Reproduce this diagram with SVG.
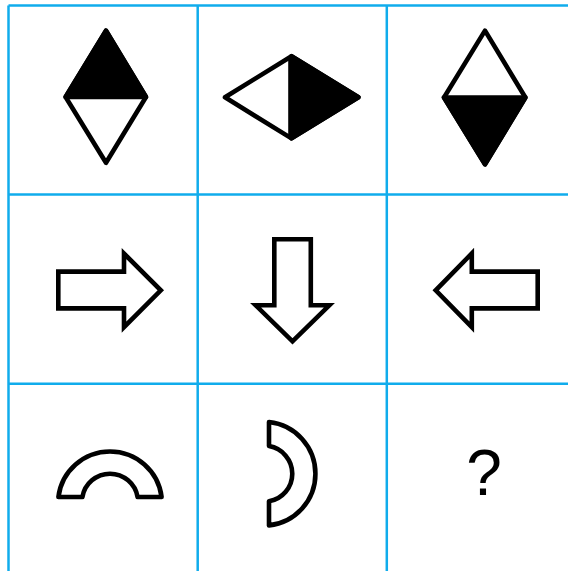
<svg xmlns="http://www.w3.org/2000/svg" width="568" height="571" viewBox="0 0 568 571">
<style>
.grid{stroke:#10acec;stroke-width:2.5;fill:none}
.sh{stroke:#000;stroke-width:4.6;fill:#fff;stroke-linejoin:round}
.ar{stroke:#000;stroke-width:4.6;fill:#fff;stroke-linejoin:miter;stroke-miterlimit:10}
.blk{fill:#000;stroke:#000;stroke-width:4.6;stroke-linejoin:round}
.q{font-family:"Liberation Sans",Arial,sans-serif;font-size:64px;fill:#000}
</style>
<rect width="568" height="571" fill="#fff"/>
<g id="grid" class="grid">
<line x1="8.5" y1="5.5" x2="8.5" y2="571"/>
<line x1="197.7" y1="5.5" x2="197.7" y2="571"/>
<line x1="386.8" y1="5.5" x2="386.8" y2="571"/>
<line x1="8.5" y1="5.5" x2="568" y2="5.5"/>
<line x1="8.5" y1="194.6" x2="568" y2="194.6"/>
<line x1="8.5" y1="383.7" x2="568" y2="383.7"/>
</g>
<g id="diamond1">
<path class="sh" d="M106,30.6 L146,97 L106,162.8 L65.6,97 Z"/>
<path class="blk" d="M106,30.6 L146,97 L65.6,97 Z"/>
</g>
<g id="diamond2">
<path class="sh" d="M291.5,56.2 L358.4,97.3 L291.5,138.4 L225,97.3 Z"/>
<path class="blk" d="M291.5,56.2 L358.4,97.3 L291.5,138.4 Z"/>
<line x1="290.5" y1="57" x2="290.5" y2="138" stroke="#000" stroke-width="4.6"/>
</g>
<g id="diamond3">
<path class="sh" d="M485,30.6 L525.4,97.5 L485,164.3 L444,97.5 Z"/>
<path class="blk" d="M525.4,97.5 L485,164.3 L444,97.5 Z"/>
</g>
<g id="arrow-right">
<path class="ar" d="M58.3,271.6 H124 V253.5 L160.8,290.3 L124,327.1 V308.4 H58.3 Z"/>
</g>
<g id="arrow-down">
<path class="ar" d="M274.3,239.3 H310.8 V305.3 H329.3 L292.5,341.3 L255.7,305.3 H274.3 Z"/>
</g>
<g id="arrow-left">
<path class="ar" d="M537.7,271.6 H471.8 V253.5 L435.7,290.3 L471.8,327.1 V308.4 H537.7 Z"/>
</g>
<g id="arch">
<path class="sh" d="M58.4,497 A52,52 0 0 1 161.6,497 H137.6 A28,28 0 0 0 82.4,497 Z"/>
</g>
<g id="moon">
<path class="sh" d="M269,422 A52,52 0 0 1 269,525.4 V501.3 A28,28 0 0 0 269,446.1 Z"/>
</g>
<g id="question">
<text class="q" x="484" y="495" text-anchor="middle">?</text>
</g>
</svg>
